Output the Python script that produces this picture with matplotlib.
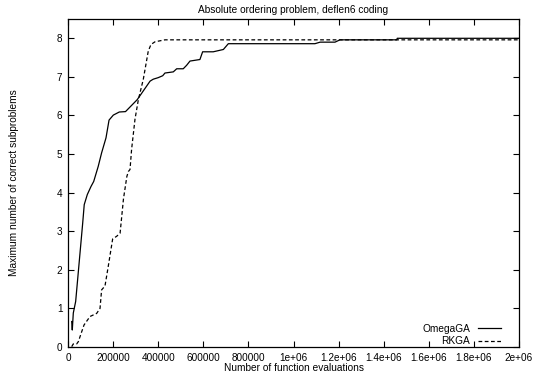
import matplotlib
matplotlib.use("Agg")
import matplotlib.pyplot as plt

plt.rcParams['font.family'] = ['Liberation Sans', 'DejaVu Sans']

omega_x = [16400, 19000, 23500, 34000, 65000, 72000, 85600, 102000, 114000, 134000,
           149000, 168500, 182000, 201000, 227500, 255000, 307000, 364000, 378000, 400000,
           420000, 430000, 467000, 482000, 511000, 526000, 541000, 585000, 597000, 644000,
           689000, 711000, 1095000, 1118000, 1184000, 1206000, 1458000, 1460000, 2000000]
omega_y = [0.66, 0.44, 0.88, 1.18, 3.2, 3.69, 3.95, 4.16, 4.29, 4.68,
           5.03, 5.42, 5.88, 6.01, 6.09, 6.10, 6.41, 6.89, 6.94, 6.98,
           7.03, 7.10, 7.13, 7.21, 7.21, 7.30, 7.41, 7.45, 7.65, 7.65,
           7.71, 7.86, 7.86, 7.90, 7.90, 7.96, 7.96, 8.0, 8.0]

rkga_x = [16400, 23500, 38500, 46000, 61000, 71000, 97500, 112000, 127000, 142000,
          149000, 164000, 178500, 198000, 216000, 231000, 246000, 261000, 268000, 275000,
          282000, 297000, 312000, 334000, 356000, 368000, 386000, 430000, 2000000]
rkga_y = [0.01, 0.08, 0.08, 0.14, 0.40, 0.57, 0.79, 0.83, 0.87, 1.0,
          1.48, 1.58, 2.09, 2.80, 2.87, 2.95, 3.84, 4.42, 4.55, 4.60,
          5.12, 5.90, 6.41, 6.94, 7.67, 7.84, 7.91, 7.96, 7.96]

x_ticks = [0, 200000, 400000, 600000, 800000, 1000000, 1200000, 1400000, 1600000, 1800000, 2000000]
x_labels = ['0', '200000', '400000', '600000', '800000', '1e+06', '1.2e+06', '1.4e+06', '1.6e+06', '1.8e+06', '2e+06']
y_ticks = [0, 1, 2, 3, 4, 5, 6, 7, 8]

fig = plt.figure(figsize=(5.39, 3.76), dpi=100)
ax = fig.add_axes([68/539, 1 - 347/376, (519-68)/539, (347-19)/376])

ax.plot(omega_x, omega_y, color='black', lw=0.9, label='OmegaGA')
ax.plot(rkga_x, rkga_y, color='black', lw=0.9, dashes=(3, 2), label='RKGA')

ax.set_xlim(0, 2000000)
ax.set_ylim(0, 8.5)
ax.set_xticks(x_ticks)
ax.set_xticklabels(x_labels)
ax.set_yticks(y_ticks)
ax.tick_params(direction='in', top=True, right=True, length=4, width=0.8, labelsize=7.2, pad=4)
for s in ax.spines.values():
    s.set_linewidth(0.9)

ax.set_title('Absolute ordering problem, deflen6 coding', fontsize=7.3, pad=4)
ax.set_xlabel('Number of function evaluations', fontsize=7.3, labelpad=0)
ax.set_ylabel('Maximum number of correct subproblems', fontsize=7.3, labelpad=27)

leg = ax.legend(loc='lower right', bbox_to_anchor=(0.975, -0.02), frameon=False, fontsize=7.3,
                markerfirst=False, handlelength=2.2, handletextpad=0.8, labelspacing=0.25,
                borderpad=0.2)
for t in leg.get_texts():
    t.set_ha('right')

fig.savefig('out.png', dpi=100)
